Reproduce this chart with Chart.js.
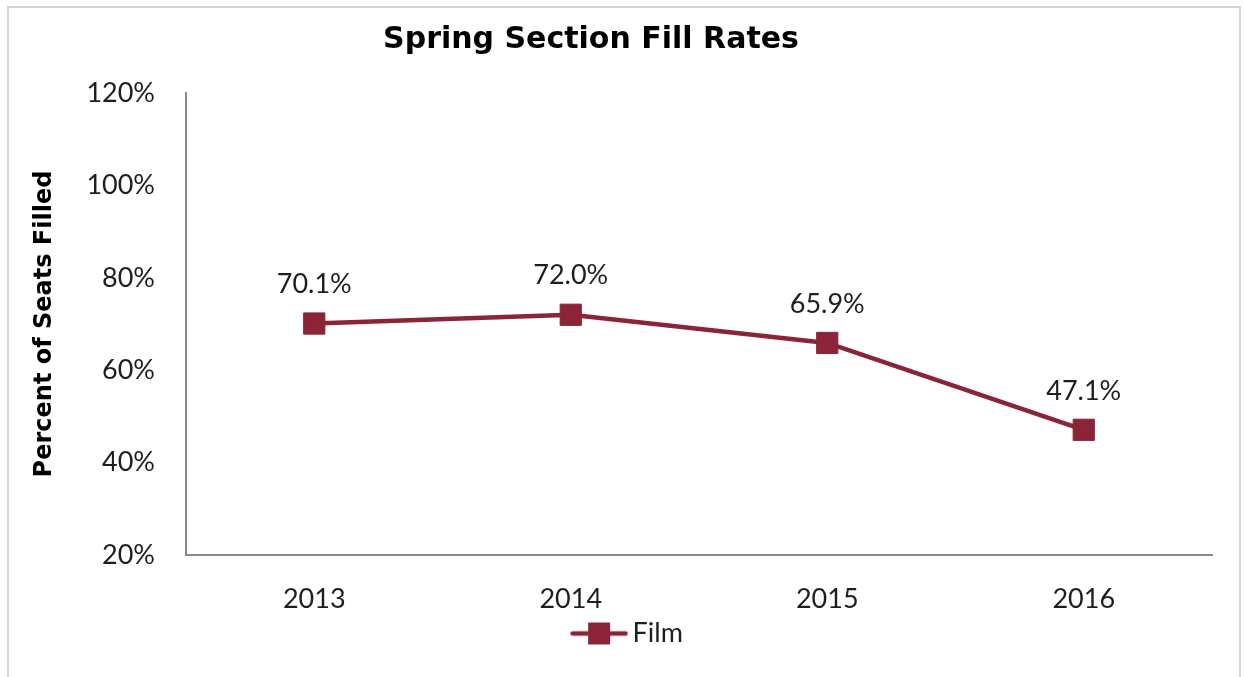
<!DOCTYPE html>
<html><head><meta charset="utf-8">
<script src="https://cdn.jsdelivr.net/npm/chart.js@4.4.1/dist/chart.umd.min.js"></script>
<style>html,body{margin:0;padding:0;background:#fff;overflow:hidden}#wrap{position:relative;width:1245px;height:677px}</style>
</head><body><div id="wrap"><canvas id="c" width="1245" height="677"></canvas></div>
<script>
const categories = ['2013', '2014', '2015', '2016'];
const filmValues = [70.1, 72.0, 65.9, 47.1];
const yTickValues = [20, 40, 60, 80, 100, 120];
const seriesName = 'Film';
const chartTitle = 'Spring Section Fill Rates';
const yAxisTitle = 'Percent of Seats Filled';

const lineColor = '#8B2436';

// legend symbol: line with square marker
const legendSym = document.createElement('canvas');
legendSym.width = 58; legendSym.height = 24;
(function(){
  const g = legendSym.getContext('2d');
  g.strokeStyle = lineColor; g.lineWidth = 4.5; g.lineCap = 'round';
  g.beginPath(); g.moveTo(2.5, 12); g.lineTo(55.5, 12); g.stroke();
  g.fillStyle = lineColor; g.fillRect(18, 1, 22, 22);
})();

const borderPlugin = {
  id: 'outerBorder',
  beforeDraw(chart) {
    const ctx = chart.ctx;
    ctx.save();
    ctx.fillStyle = '#fff';
    ctx.fillRect(0, 0, chart.width, chart.height);
    ctx.strokeStyle = '#d4d4d4';
    ctx.lineWidth = 2;
    ctx.strokeRect(8, 7, 1232, 720);
    ctx.restore();
  }
};

const shiftPlugin = {
  id: 'shiftBoxes',
  afterLayout(chart) {
    const t = chart.titleBlock;
    if (t) { const dx = 591 - (t.left + t.right) / 2; t.left += dx; t.right += dx; }
    const l = chart.legend;
    if (l) { const dx = 25; l.left += dx; l.right += dx; }
  }
};

const labelPlugin = {
  id: 'pointLabels',
  afterDatasetsDraw(chart) {
    const ctx = chart.ctx;
    const meta = chart.getDatasetMeta(0);
    ctx.save();
    ctx.font = '27px Lato';
    ctx.fillStyle = '#1e1e1e';
    ctx.textAlign = 'center';
    ctx.textBaseline = 'middle';
    meta.data.forEach((pt, i) => {
      ctx.fillText(filmValues[i].toFixed(1) + '%', pt.x, pt.y - 39);
    });
    ctx.restore();
  }
};

new Chart(document.getElementById('c'), {
  type: 'line',
  data: {
    labels: categories,
    datasets: [{
      label: seriesName,
      data: filmValues,
      borderColor: lineColor,
      backgroundColor: lineColor,
      borderWidth: 4.5,
      pointStyle: 'rect',
      pointRadius: 15,
      pointBorderWidth: 1,
      pointBackgroundColor: lineColor,
      pointBorderColor: lineColor,
      tension: 0
    }]
  },
  options: {
    responsive: false,
    animation: false,
    devicePixelRatio: 1,
    layout: { padding: { left: 0, right: 33, top: 0, bottom: 20 } },
    plugins: {
      title: {
        display: true, text: chartTitle, color: '#000',
        font: { family: '"DejaVu Sans"', size: 30, weight: 'bold' },
        padding: { top: 22, bottom: 35 }
      },
      legend: {
        display: true, position: 'bottom',
        labels: {
          usePointStyle: true, pointStyle: legendSym, pointStyleWidth: 40,
          color: '#1e1e1e', font: { family: 'Lato', size: 27 }, padding: 10
        }
      },
      tooltip: { enabled: false }
    },
    scales: {
      x: {
        type: 'category', offset: true,
        grid: { display: false, drawTicks: false },
        border: { display: true, color: '#8a8a8a', width: 2 },
        ticks: { color: '#1e1e1e', font: { family: 'Lato', size: 27 }, padding: 28 },
        afterFit(s) { s.height = 55; }
      },
      y: {
        min: 20, max: 120,
        afterBuildTicks(s) { s.ticks = yTickValues.map(v => ({ value: v })); },
        grid: { display: false, drawTicks: false },
        border: { display: true, color: '#8a8a8a', width: 2 },
        ticks: { color: '#1e1e1e', font: { family: 'Lato', size: 27 }, padding: 31,
          callback: v => v + '%' },
        title: { display: true, text: yAxisTitle, color: '#000',
          font: { family: '"DejaVu Sans"', size: 24, weight: 'bold' }, padding: { top: 30, bottom: 0 } },
        afterFit(s) { s.width = 186; }
      }
    }
  },
  plugins: [borderPlugin, shiftPlugin, labelPlugin]
});
</script></body></html>
